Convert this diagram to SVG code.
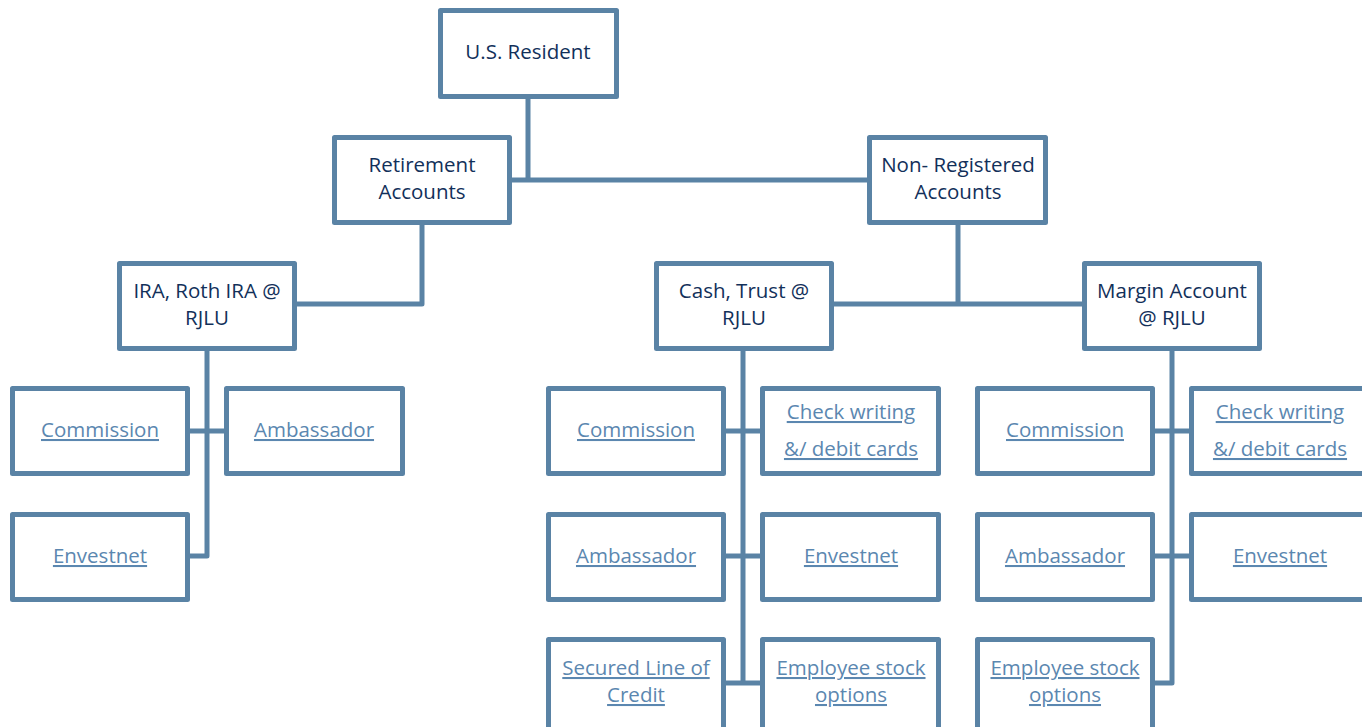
<svg xmlns="http://www.w3.org/2000/svg" width="1362" height="727" viewBox="0 0 1362 727">
<style>
.box{fill:#fff;stroke:#5a83a5;stroke-width:5;stroke-linejoin:round}
.con{fill:none;stroke:#5a83a5;stroke-width:5;stroke-linejoin:round}
.t{font-family:"Open Sans","Noto Sans",sans-serif;font-size:20.5px;fill:#12305a;text-anchor:middle}
.l{font-family:"Open Sans","Noto Sans",sans-serif;font-size:20.5px;fill:#5b87b0;text-anchor:middle;text-decoration:underline}
</style>
<rect width="1362" height="727" fill="#fff"/>
<g id="connectors">
<path class="con" d="M528,99V180M512,180H867"/>
<path class="con" d="M422,225V304H297"/>
<path class="con" d="M958,225V304M834,304H1082"/>
<path class="con" d="M207,351V556H190M190,431H224"/>
<path class="con" d="M743,351V683M726,431H760M726,556H760M726,683H760"/>
<path class="con" d="M1172,351V683H1155M1155,431H1189M1155,556H1189"/>
</g>
<g id="us-resident"><rect class="box" x="440.5" y="10.5" width="176" height="86"/><text class="t" x="528" y="59">U.S. Resident</text></g>
<g id="retirement"><rect class="box" x="334.5" y="137.5" width="175" height="85"/><text class="t" x="422" y="172">Retirement</text><text class="t" x="422" y="199">Accounts</text></g>
<g id="non-registered"><rect class="box" x="869.5" y="137.5" width="176" height="85"/><text class="t" x="958" y="172">Non- Registered</text><text class="t" x="958" y="199">Accounts</text></g>
<g id="ira"><rect class="box" x="119.5" y="263.5" width="175" height="85"/><text class="t" x="207" y="298">IRA, Roth IRA @</text><text class="t" x="207" y="325">RJLU</text></g>
<g id="cash-trust"><rect class="box" x="656.5" y="263.5" width="175" height="85"/><text class="t" x="744" y="298">Cash, Trust @</text><text class="t" x="744" y="325">RJLU</text></g>
<g id="margin"><rect class="box" x="1084.5" y="263.5" width="175" height="85"/><text class="t" x="1172" y="298">Margin Account</text><text class="t" x="1172" y="325">@ RJLU</text></g>
<g id="ira-commission"><rect class="box" x="12.5" y="388.5" width="175" height="85"/><text class="l" x="100" y="437">Commission</text></g>
<g id="ira-ambassador"><rect class="box" x="226.5" y="388.5" width="176" height="85"/><text class="l" x="314" y="437">Ambassador</text></g>
<g id="ira-envestnet"><rect class="box" x="12.5" y="514.5" width="175" height="85"/><text class="l" x="100" y="563">Envestnet</text></g>
<g id="cash-commission"><rect class="box" x="548.5" y="388.5" width="175" height="85"/><text class="l" x="636" y="437">Commission</text></g>
<g id="cash-check"><rect class="box" x="762.5" y="388.5" width="176" height="85"/><text class="l" x="851" y="419">Check writing</text><text class="l" x="851" y="456">&amp;/ debit cards</text></g>
<g id="cash-ambassador"><rect class="box" x="548.5" y="514.5" width="175" height="85"/><text class="l" x="636" y="563">Ambassador</text></g>
<g id="cash-envestnet"><rect class="box" x="762.5" y="514.5" width="176" height="85"/><text class="l" x="851" y="563">Envestnet</text></g>
<g id="cash-secured"><rect class="box" x="548.5" y="639.5" width="175" height="90"/><text class="l" x="636" y="675">Secured Line of</text><text class="l" x="636" y="702">Credit</text></g>
<g id="cash-employee"><rect class="box" x="762.5" y="639.5" width="176" height="90"/><text class="l" x="851" y="675">Employee stock</text><text class="l" x="851" y="702">options</text></g>
<g id="margin-commission"><rect class="box" x="977.5" y="388.5" width="175" height="85"/><text class="l" x="1065" y="437">Commission</text></g>
<g id="margin-check"><rect class="box" x="1191.5" y="388.5" width="176" height="85"/><text class="l" x="1280" y="419">Check writing</text><text class="l" x="1280" y="456">&amp;/ debit cards</text></g>
<g id="margin-ambassador"><rect class="box" x="977.5" y="514.5" width="175" height="85"/><text class="l" x="1065" y="563">Ambassador</text></g>
<g id="margin-envestnet"><rect class="box" x="1191.5" y="514.5" width="176" height="85"/><text class="l" x="1280" y="563">Envestnet</text></g>
<g id="margin-employee"><rect class="box" x="977.5" y="639.5" width="175" height="90"/><text class="l" x="1065" y="675">Employee stock</text><text class="l" x="1065" y="702">options</text></g>
</svg>
